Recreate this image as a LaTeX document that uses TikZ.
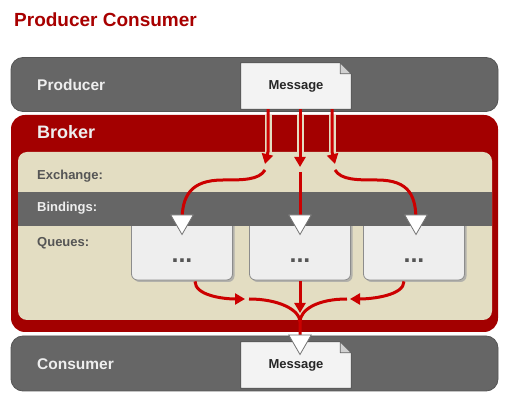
\documentclass[tikz,border=0pt]{standalone}
\usepackage{fontspec}
\setmainfont{Liberation Sans}
\usetikzlibrary{arrows.meta,shapes.geometric,shadows}
\definecolor{titlered}{HTML}{A80000}
\definecolor{brokerred}{HTML}{A30000}
\definecolor{arrowred}{HTML}{CC0000}
\definecolor{bargrey}{HTML}{666666}
\definecolor{baredge}{HTML}{555555}
\definecolor{beige}{HTML}{E3DDC2}
\definecolor{lighttext}{HTML}{EEEEEE}
\definecolor{darktext}{HTML}{555555}
\definecolor{msgfill}{HTML}{F3F3F3}
\definecolor{queuefill}{HTML}{EEEEEE}
\pgfdeclarelayer{bg}
\pgfdeclarelayer{fg}
\pgfsetlayers{bg,main,fg}
\begin{document}
\begin{tikzpicture}[x=1pt,y=-1pt,
  bar/.style={draw=baredge, line width=0.8pt, fill=bargrey, rounded corners=12pt, minimum width=487pt, minimum height=54pt, inner sep=0pt},
  qbox/.style={draw=black!45, line width=0.8pt, fill=queuefill, rounded corners=6pt, minimum width=101pt, minimum height=65pt, inner sep=0pt, drop shadow={shadow xshift=2pt, shadow yshift=-2pt, fill=black!35, opacity=0.8}},
  msg/.style={minimum width=110pt, minimum height=46pt, inner sep=0pt, font=\bfseries\fontsize{13}{15}\selectfont, text=black!85},
  msgshape/.style={draw=black!70, line width=0.8pt, fill=msgfill, line join=round},
  fold/.style={draw=black!60, line width=0.6pt, fill=black!18, line join=round},
  lbl/.style={anchor=base west, inner sep=0pt, font=\bfseries\fontsize{15.5}{18}\selectfont, text=lighttext},
  sublbl/.style={anchor=base west, inner sep=0pt, font=\bfseries\fontsize{13}{15}\selectfont, text=darktext},
  dotsl/.style={inner sep=0pt, font=\bfseries\fontsize{25}{25}\selectfont, text=darktext},
  tri/.style={regular polygon, regular polygon sides=3, shape border rotate=180, draw=black!55, line width=0.8pt, fill=white, minimum size=26pt, inner sep=0pt},
  flow/.style={draw=arrowred, line width=3pt},
  flowarrow/.style={flow, -{Triangle[length=10pt,width=11pt]}},
  casing/.style={draw=beige, line width=7pt},
]
\useasboundingbox (0,0) rectangle (528,403);

% title
\node[anchor=base west, inner sep=0pt, font=\bfseries\fontsize{19}{21}\selectfont, text=titlered] (title) at (14,27) {Producer Consumer};

% backgrounds
\begin{pgfonlayer}{bg}
\fill[white] (0,0) rectangle (528,403);
\node[bar] (prodbar) at (254.5,84.5) {};
\node[fill=brokerred, rounded corners=14pt, minimum width=487pt, minimum height=217pt, inner sep=0pt] (broker) at (254.5,223.5) {};
\node[fill=beige, rounded corners=9pt, minimum width=474pt, minimum height=168pt, inner sep=0pt] (inner) at (255,236) {};
\node[qbox] (q1) at (182,247.5) {};
\node[qbox] (q2) at (300,247.5) {};
\node[qbox] (q3) at (414,247.5) {};
\node[fill=bargrey, minimum width=474pt, minimum height=34pt, inner sep=0pt] (bind) at (255,209) {};
\node[bar, minimum height=55pt] (conbar) at (254.5,363.5) {};
\end{pgfonlayer}

% labels
\node[lbl] (lprod) at (37,91) {Producer};
\node[lbl, font=\bfseries\fontsize{18}{20}\selectfont] (lbroker) at (37,139) {Broker};
\node[sublbl] (lex) at (37,180) {Exchange:};
\node[sublbl, text=lighttext] (lbind) at (37,212) {Bindings:};
\node[sublbl] (lq) at (37,247) {Queues:};
\node[lbl] (lcon) at (37,370) {Consumer};

% messages
\node[msg] (msgtop) at (296,86) {Message};
\node[msg] (msgbot) at (296,365) {Message};
\begin{pgfonlayer}{bg}
\foreach \m in {msgtop,msgbot}{
  \draw[msgshape] (\m.north west) -- ([xshift=-11pt]\m.north east) -- ([yshift=-11pt]\m.north east) -- (\m.south east) -- (\m.south west) -- cycle;
  \draw[fold] ([xshift=-11pt]\m.north east) -- ([xshift=-11pt,yshift=-11pt]\m.north east) -- ([yshift=-11pt]\m.north east) -- cycle;
}
\end{pgfonlayer}

% queue contents
\node[dotsl] (d1) at (182,261) {...};
\node[dotsl] (d2) at (300,261) {...};
\node[dotsl] (d3) at (414,261) {...};

% triangles (front)
\begin{pgfonlayer}{fg}
\node[tri] (tq1) at (182,221.5) {};
\node[tri] (tq2) at (300,221.5) {};
\node[tri] (tq3) at (416,221.5) {};
\node[tri] (tb) at (300,341.5) {};
\end{pgfonlayer}

% producer -> exchange
\coordinate (a1) at ([xshift=-28pt]msgtop.south);
\coordinate (a2) at ([xshift=4pt]msgtop.south);
\coordinate (a3) at ([xshift=36pt]msgtop.south);
\coordinate (h1) at (265,164);
\coordinate (h2) at (300,167);
\coordinate (h3) at (335,164);
\coordinate (s1) at (265,170);
\coordinate (s2) at (300,172);
\coordinate (s3) at (335,170);
\foreach \a in {a1,a2,a3}{
  \draw[casing] (\a |- broker.north) -- (\a |- inner.north);
}
\draw[flowarrow] (a1) -- (a1 |- inner.north) -- (h1);
\draw[flowarrow] (a2) -- (h2);
\draw[flowarrow] (a3) -- (a3 |- inner.north) -- (h3);

% exchange -> bindings
\draw[flow] (s1) .. controls +(-6,10) and +(20,0) .. (223,180) .. controls +(-33,0) and +(0,-25) .. (tq1.center);
\draw[flow] (s2) -- (tq2.center);
\draw[flow] (s3) .. controls +(6,10) and +(-20,0) .. (377,180) .. controls +(33,0) and +(0,-25) .. (tq3.center);

% queues -> consumer
\coordinate (l1) at ([xshift=13pt,yshift=-1pt]q1.south);
\coordinate (l2) at ([yshift=-1pt]q2.south);
\coordinate (l3) at ([xshift=-10pt,yshift=-1pt]q3.south);
\coordinate (b1) at (245,299);
\coordinate (b2) at (300,313);
\coordinate (b3) at (350,299);
\coordinate (m1) at (249,299);
\coordinate (m3) at (347,299);
\coordinate (mj) at (300,322);
\draw[flowarrow] (l1) .. controls +(0,14) and +(-22,0) .. (b1);
\draw[flowarrow] (l2) -- (b2);
\draw[flowarrow] (l3) .. controls +(0,14) and +(22,0) .. (b3);
\draw[flow] (m1) .. controls +(30,0) and +(0,-12) .. (mj) -- (tb.center);
\draw[flow] (m3) .. controls +(-30,0) and +(0,-12) .. (mj);
\end{tikzpicture}
\end{document}
